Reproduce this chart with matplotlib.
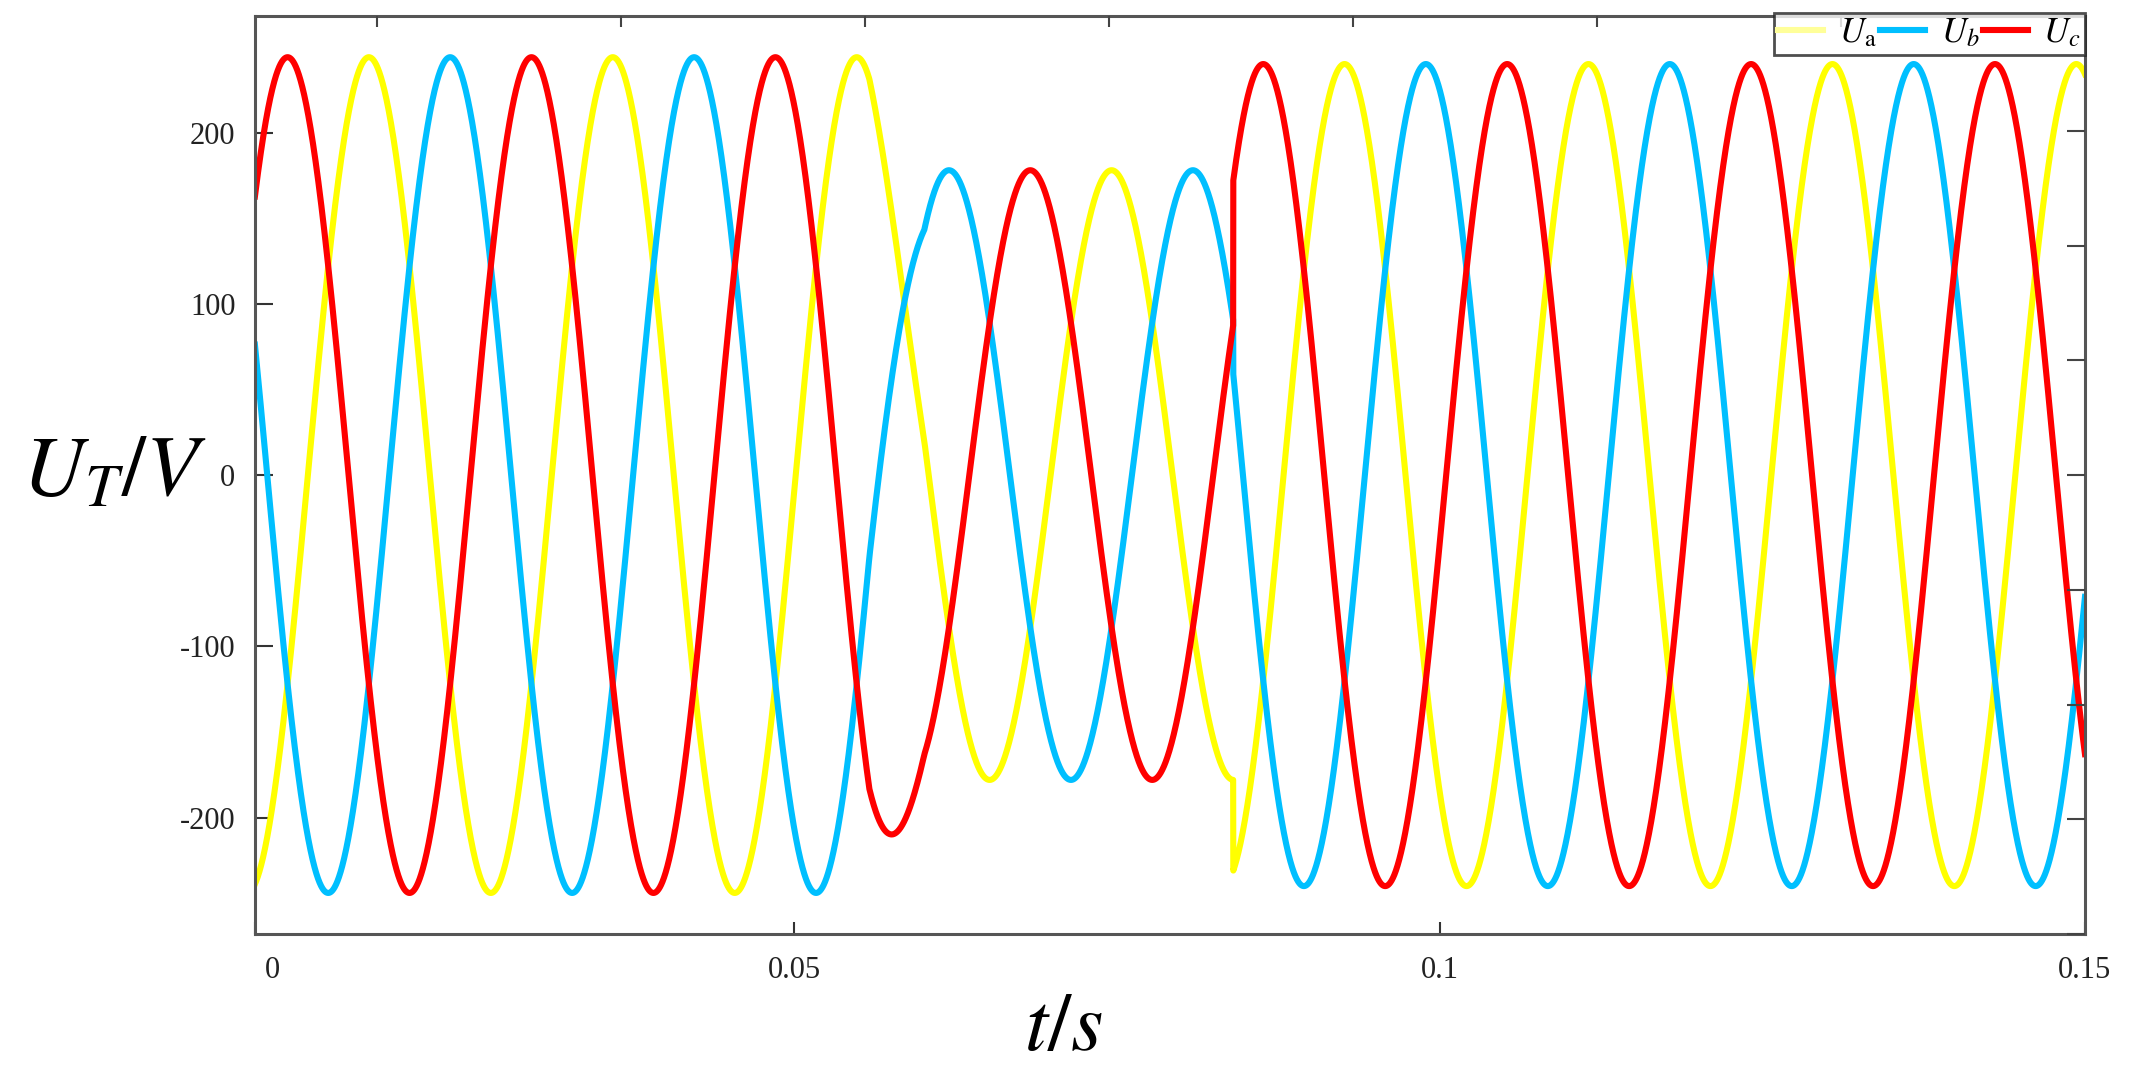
import numpy as np
import matplotlib
matplotlib.use("Agg")
import matplotlib.pyplot as plt
import matplotlib.transforms as mtransforms

# ---------------- data ----------------
series_labels = [r"$U_{\mathrm{a}}$", r"$U_b$", r"$U_c$"]
series_colors = ["#FFFF00", "#00BFFF", "#FF0000"]
phase_lag_frac = [1 / 3, 2 / 3, 0.0]      # peak lag of each phase vs. U_c, in periods

uc_first_peak = 0.01073                   # s, first U_c peak
period = 0.01890                          # s, waveform period
amp_pre = 244.0                           # V, before the sag
amp_sag = 178.0                           # V, during the sag
amp_post = 240.0                          # V, after recovery
sag_onset = [0.05581, 0.06007]            # s, start / end of the sag onset
sag_end = 0.08400                         # s, abrupt recovery
sag_phase_delay = 0.00085                 # s, phase jump during the sag

t_left = 0.0082                           # left edge of the plotted window
t_right = 0.15
x_tick_pos = [t_left, 0.05, 0.1, 0.15]
x_tick_labels = ["0", "0.05", "0.1", "0.15"]
y_ticks = [-200, -100, 0, 100, 200]
y_limits = (-268, 268)

# ---------------- build waveforms ----------------
t = np.linspace(t_left, t_right, 12000)
ramp = np.clip((t - sag_onset[0]) / (sag_onset[1] - sag_onset[0]), 0, 1)
in_sag = t < sag_end
amp = np.where(in_sag, amp_pre + (amp_sag - amp_pre) * ramp, amp_post)
delay = np.where(in_sag, sag_phase_delay * ramp, 0.0)

plt.rcParams["font.family"] = ["Liberation Serif", "DejaVu Serif"]
plt.rcParams["mathtext.fontset"] = "stix"
plt.rcParams["axes.unicode_minus"] = False

fig = plt.figure(figsize=(21.53, 10.73), dpi=100)
ax = fig.add_axes([0.1184, 0.1295, 0.85, 0.8555])

for lab, col, lag in zip(series_labels, series_colors, phase_lag_frac):
    y = amp * np.cos(2 * np.pi * (t - uc_first_peak - lag * period - delay) / period)
    ax.plot(t, y, color=col, lw=4.4, label=lab, solid_joinstyle="round")

ax.set_xlim(t_left, t_right)
ax.set_ylim(*y_limits)
ax.set_xticks(x_tick_pos)
ax.set_xticklabels(x_tick_labels)
ax.set_yticks(y_ticks)
ax.set_yticklabels([str(v) for v in y_ticks])
ax.tick_params(axis="x", direction="in", length=9, width=1.5, pad=16,
               labelsize=22, colors="#333333", labelcolor="#222222")
ax.tick_params(axis="y", direction="in", length=13, width=1.5, pad=14,
               labelsize=22, colors="#333333", labelcolor="#222222")
first = ax.get_xticklabels()[0]
first.set_transform(first.get_transform()
                    + mtransforms.ScaledTranslation(0.18, 0, fig.dpi_scale_trans))

for s in ax.spines.values():
    s.set_linewidth(2.2)
    s.set_color("#555555")

# top and right tick marks (box ticks of the original figure)
axt = ax.twiny()
axt.set_xlim(-0.5, 7)
axt.set_xticks(range(8))
axt.tick_params(axis="x", direction="in", length=8, width=1.5, colors="#444444",
                labeltop=False)
axr = ax.twinx()
axr.set_ylim(0, 8)
axr.set_yticks(range(9))
axr.tick_params(axis="y", direction="in", length=13, width=1.5, colors="#444444",
                labelright=False)
for a in (axt, axr):
    for s in a.spines.values():
        s.set_visible(False)

ax.set_ylabel(r"$U_T/V$", fontsize=62, rotation=0, ha="center", va="center")
ax.yaxis.set_label_coords(-0.077, 0.5)
ax.set_xlabel(r"$t/s$", fontsize=60, ha="center", va="center")
ax.xaxis.set_label_coords(0.442, -0.105)

leg = axr.legend(*ax.get_legend_handles_labels(), ncol=3, loc="upper right",
                 bbox_to_anchor=(1.0, 1.003), fontsize=25, frameon=True,
                 fancybox=False, shadow=False, borderpad=0.12, borderaxespad=0.0,
                 handlelength=1.3, handletextpad=0.45, columnspacing=0.1)
leg.get_frame().set_edgecolor("#222222")
leg.get_frame().set_linewidth(2.0)
leg.get_lines()[0].set_color("#FFFF99")

fig.savefig("out.png", dpi=100)
